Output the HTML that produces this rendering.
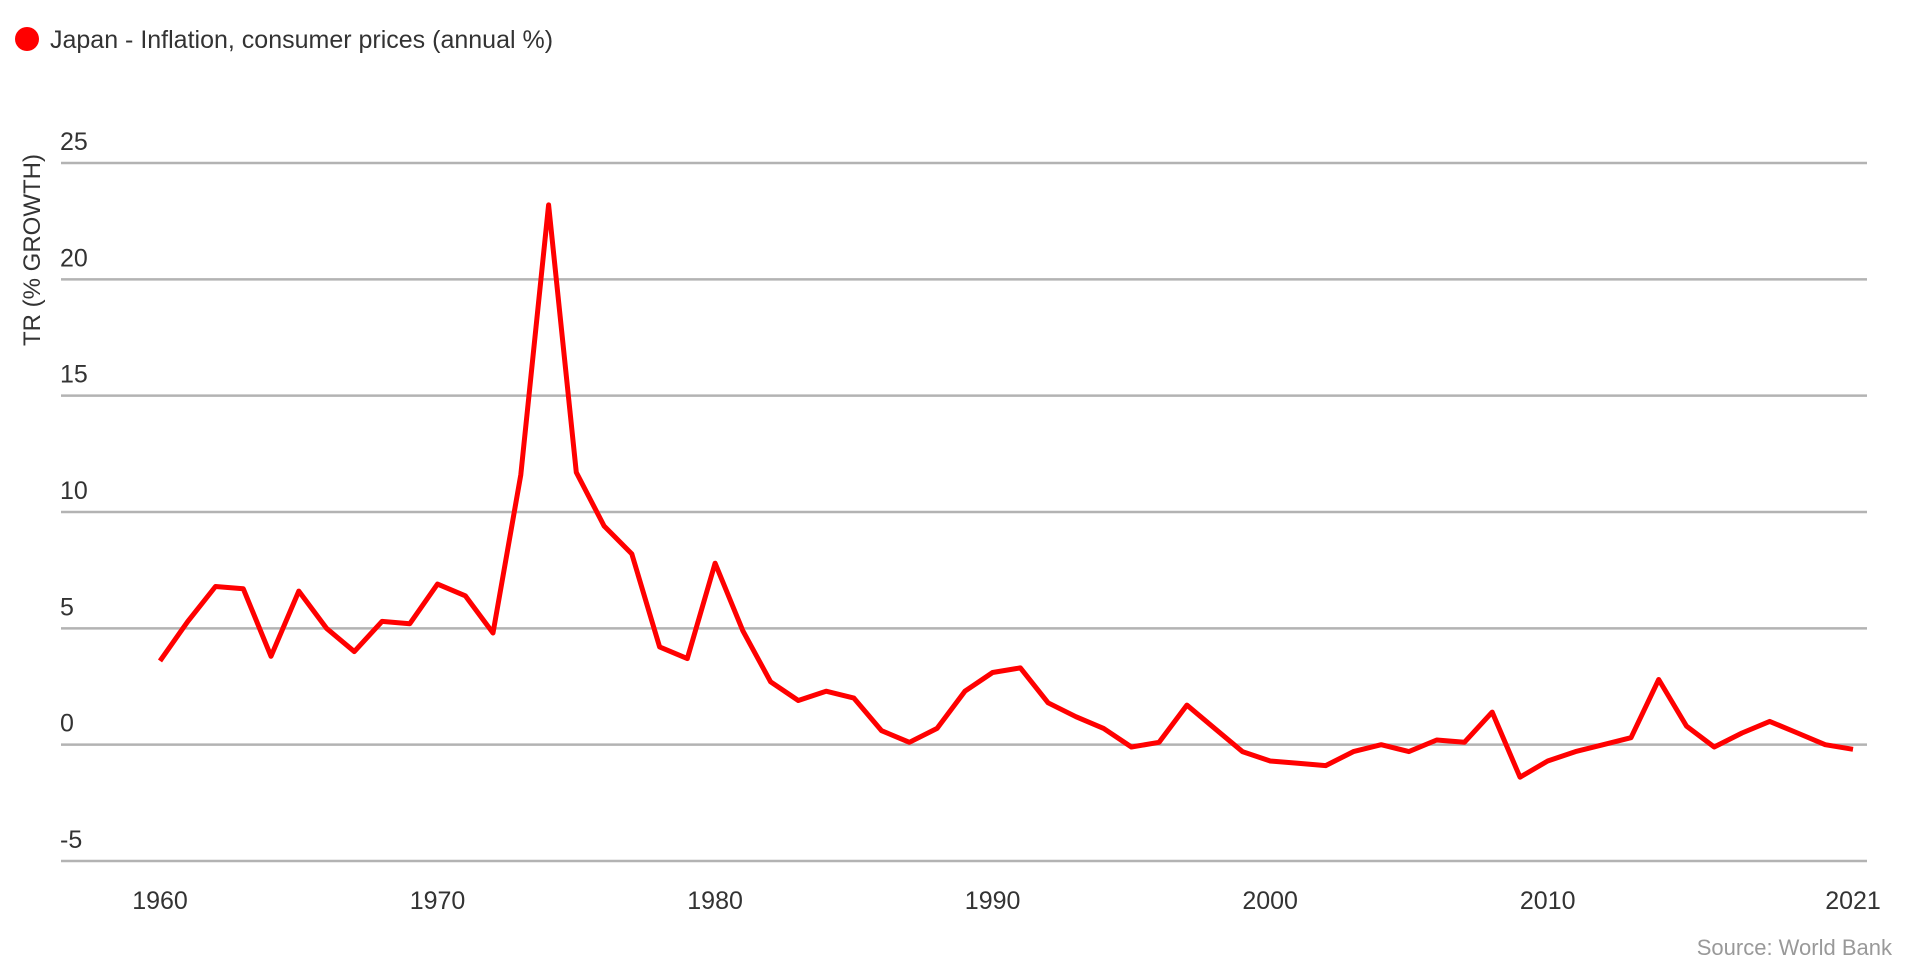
<!DOCTYPE html>
<html><head><meta charset="utf-8"><style>
html,body{margin:0;padding:0;background:#fff;}
svg{display:block;font-family:"Liberation Sans",sans-serif;}
</style></head><body>
<svg width="1920" height="960" viewBox="0 0 1920 960">
<g>
<circle cx="27" cy="39" r="12" fill="#ff0000"/>
<text x="50" y="48" font-size="25" fill="#333">Japan - Inflation, consumer prices (annual %)</text>
</g>
<text transform="translate(40,250) rotate(-90)" text-anchor="middle" font-size="24" fill="#333">TR (% GROWTH)</text>
<g id="grid"></g>
<g id="xt"></g>
<path id="line" fill="none" stroke="#ff0000" stroke-width="5" stroke-linejoin="round"/>
<text x="1892" y="955" text-anchor="end" font-size="22" fill="#999">Source: World Bank</text>
</svg>
<script>
const years=[];for(let y=1960;y<=2021;y++)years.push(y);
const values=[3.6,5.3,6.8,6.7,3.8,6.6,5.0,4.0,5.3,5.2,6.9,6.4,4.8,11.6,23.2,11.7,9.4,8.2,4.2,3.7,7.8,4.9,2.7,1.9,2.3,2.0,0.6,0.1,0.7,2.3,3.1,3.3,1.8,1.2,0.7,-0.1,0.1,1.7,0.7,-0.3,-0.7,-0.8,-0.9,-0.3,0.0,-0.3,0.2,0.1,1.4,-1.4,-0.7,-0.3,0.0,0.3,2.8,0.8,-0.1,0.5,1.0,0.5,0.0,-0.2];
const yTicks=[25,20,15,10,5,0,-5];
const xTicks=[1960,1970,1980,1990,2000,2010,2021];
const NS="http://www.w3.org/2000/svg";
function X(yr){return 160+(yr-1960)*(1853-160)/61;}
function Y(v){return 163+(25-v)*(861-163)/30;}
const g=document.getElementById('grid');
yTicks.forEach(t=>{
 const l=document.createElementNS(NS,'line');
 l.setAttribute('x1',61);l.setAttribute('x2',1867);l.setAttribute('y1',Y(t));l.setAttribute('y2',Y(t));
 l.setAttribute('stroke','#b3b3b3');l.setAttribute('stroke-width','2.5');
 
 
 g.appendChild(l);
 const tx=document.createElementNS(NS,'text');
 tx.setAttribute('x',60);tx.setAttribute('y',Y(t)-13);tx.setAttribute('font-size','25');tx.setAttribute('fill','#333');
 tx.textContent=t;
 
 
 g.appendChild(tx);
});
const xg=document.getElementById('xt');
xTicks.forEach(t=>{
 const tx=document.createElementNS(NS,'text');
 tx.setAttribute('x',X(t));tx.setAttribute('y',909);tx.setAttribute('font-size','25');tx.setAttribute('fill','#333');
 tx.setAttribute('text-anchor','middle');
 tx.textContent=t;
 
 
 xg.appendChild(tx);
});
document.getElementById('line').setAttribute('d',values.map((v,i)=>(i?'L':'M')+X(years[i]).toFixed(1)+','+Y(v).toFixed(1)).join(''));
</script>
</body></html>
